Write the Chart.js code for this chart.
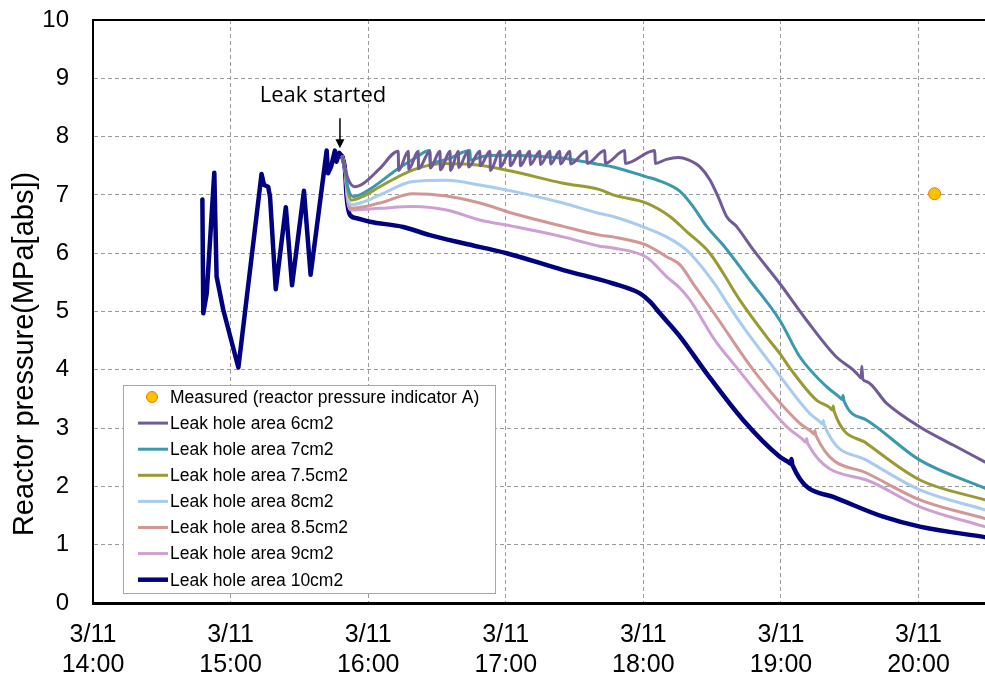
<!DOCTYPE html>
<html>
<head>
<meta charset="utf-8">
<script src="https://cdn.jsdelivr.net/npm/chart.js@4.4.0/dist/chart.umd.min.js"></script>
<style>
  html, body { margin: 0; padding: 0; background: #fff; overflow: hidden; }
  canvas { display: block; }
</style>
</head>
<body>
<canvas id="chart" width="992" height="678"></canvas>
<script>
// x = minutes after 3/11 14:00, y = reactor pressure MPa[abs]
const dateLabel = '3/11';
const hourLabels = ['14:00', '15:00', '16:00', '17:00', '18:00', '19:00', '20:00'];
const yTitle = 'Reactor pressure(MPa[abs])';
const leakText = 'Leak started';
const leakTime = 107.7;
const leakTip = 7.8;

const measured = [[367, 7.02]];

// common history before the leak (drawn as part of the 10cm2 series)
const history = [
  [47.7,6.92],[48.1,4.97],[49.6,5.31],[52.9,7.38],[53.9,5.60],[56.8,5.03],
  [63.4,4.04],[73.5,7.36],[74.6,7.17],[76.4,7.14],[77.2,6.97],[79.7,5.38],
  [84.1,6.79],[86.8,5.45],[92.0,7.07],[94.9,5.63],[101.9,7.76],[102.5,7.37],
  [103.8,7.48],[105.5,7.76],[106.2,7.57],[107.4,7.72],[108.7,7.66]
];

const leak6 = [
  [108.7,7.66],[109.9,7.45],[111.5,7.25],[114.2,7.14],[118,7.2],[125,7.45],
  [133.1,7.75],[133.3,7.42],[137.5,7.75],[137.7,7.44],[141.8,7.75],[142.0,7.45],
  [146.9,7.75],[147.1,7.46],[151.3,7.75],[151.5,7.43],[155.7,7.75],[155.9,7.42],
  [159.3,7.75],[159.5,7.47],[163.6,7.75],[163.8,7.48],[168.7,7.75],[168.9,7.50],
  [173.1,7.75],[173.3,7.42],[177.5,7.75],[177.7,7.48],[181.8,7.75],[182.0,7.50],
  [186.2,7.75],[186.4,7.50],[190.5,7.75],[190.7,7.52],[194.9,7.75],[195.1,7.52],
  [199.3,7.75],[199.5,7.53],[203.6,7.75],[203.8,7.53],[208.0,7.75],[208.2,7.53],
  [215.3,7.75],[215.5,7.54],[223.2,7.76],[223.4,7.54],[231.9,7.76],[232.1,7.54],
  [245.0,7.76],[245.2,7.54],[250.1,7.61],[255.2,7.64],[259.6,7.60],[264.7,7.48],
  [269.0,7.26],[272.6,6.97],[276.3,6.63],[280.6,6.46],[287.9,6.06],[299.5,5.48],
  [311.2,4.85],[324.2,4.22],[331.5,4.00],[333.5,3.92],[335.0,3.86],[335.3,4.06],
  [335.7,3.84],[337.3,3.80],[346.0,3.43],[360.6,3.02],[375.1,2.71],[388.9,2.42]
];

const leak7 = [
  [108.7,7.66],[109.9,7.43],[111,7.15],[113.5,6.97],[120,7.08],[132.4,7.43],
  [140,7.62],[146.9,7.76],[147.1,7.55],[155,7.62],[164.4,7.76],[164.6,7.60],
  [170,7.66],[177,7.68],[205,7.63],[221,7.52],[226.8,7.48],[241.4,7.31],
  [245.7,7.26],[256,7.06],[261.7,6.80],[267.6,6.46],[274.8,6.14],[286.4,5.54],
  [299.5,4.85],[308.3,4.22],[319.9,3.71],[325.3,3.54],[326.8,3.49],[327.1,3.56],
  [327.5,3.47],[337.3,3.14],[360.6,2.45],[388.9,1.97]
];

const leak75 = [
  [108.7,7.66],[109.9,7.43],[111,7.10],[112.8,6.91],[118,6.98],[125.1,7.14],
  [139.6,7.43],[152.7,7.54],[168.7,7.51],[183.3,7.40],[205,7.20],[221,7.09],
  [226.8,7.00],[241.4,6.86],[251.6,6.63],[258.9,6.37],[269,6.00],[282,5.20],
  [293.7,4.57],[299.5,4.28],[303.9,4.03],[315.5,3.48],[321,3.36],[322.5,3.31],
  [322.8,3.38],[323.2,3.29],[337.3,2.74],[360.6,2.11],[388.9,1.77]
];

const leak8 = [
  [108.7,7.66],[109.9,7.43],[111,7.00],[112.5,6.83],[118,6.88],[125.1,7.00],
  [139.6,7.23],[154.2,7.25],[168.7,7.17],[183.3,7.06],[205,6.86],[221,6.68],
  [226.8,6.63],[241.4,6.43],[250.1,6.28],[256,6.14],[260.3,6.00],[271.9,5.43],
  [275.6,5.20],[283.5,4.74],[296.6,4.05],[312.6,3.25],[316.7,3.12],[318.2,3.07],
  [318.5,3.13],[318.9,3.05],[337.3,2.45],[360.6,1.94],[388.9,1.60]
];

const leak85 = [
  [108.7,7.66],[109.9,7.43],[111,6.95],[112.5,6.77],[125.1,6.86],[139.6,7.02],
  [154.2,6.98],[168.7,6.86],[183.3,6.68],[205,6.46],[221,6.31],[226.8,6.28],
  [241.4,6.14],[250.1,5.94],[256,5.80],[261.7,5.48],[271.9,4.91],[287.9,4.00],
  [308.3,3.08],[313,2.95],[314.5,2.90],[314.8,2.96],[315.2,2.88],[337.3,2.23],
  [360.6,1.77],[388.9,1.45]
];

const leak9 = [
  [108.7,7.66],[109.9,7.43],[111,6.90],[112.5,6.74],[125.1,6.77],[139.6,6.80],
  [154.2,6.74],[168.7,6.57],[183.3,6.46],[205,6.28],[221,6.12],[226.8,6.09],
  [241.4,5.93],[250.1,5.60],[256,5.40],[260.3,5.20],[271.2,4.51],[279.2,4.11],
  [302.4,3.03],[309.4,2.81],[310.9,2.76],[311.2,2.82],[311.6,2.74],[337.3,2.11],
  [360.6,1.65],[388.9,1.31]
];

const leak10 = [
  [108.7,7.66],[109.9,7.43],[110.6,6.97],[112.0,6.66],[115.0,6.60],[120.8,6.54],
  [135.3,6.45],[146.9,6.31],[161.5,6.17],[180.4,6.00],[205.1,5.71],[226.8,5.48],
  [238.5,5.31],[242.9,5.17],[247.2,4.97],[256,4.57],[267.6,3.94],[283.5,3.14],
  [299.5,2.51],[302.8,2.43],[304.3,2.39],[304.6,2.47],[305.0,2.37],[322.8,1.82],
  [344.6,1.48],[360.6,1.31],[388.9,1.13]
];

const FONT = "'Liberation Sans', Arial, sans-serif";

function toXY(arr) {
  return arr.map(([x, y]) => ({ x, y }));
}

function lineSet(label, data, color, width, smooth = true) {
  return {
    type: 'line',
    label,
    data: toXY(data),
    borderColor: color,
    backgroundColor: color,
    borderWidth: width,
    borderJoinStyle: 'round',
    borderCapStyle: 'round',
    pointRadius: 0,
    fill: false,
    tension: 0,
    cubicInterpolationMode: smooth ? 'monotone' : 'default'
  };
}

// ─── plugins ────────────────────────────────────────────────────────────────
const frame = {
  id: 'frame',
  afterDraw(chart) {
    const { ctx, chartArea } = chart;
    ctx.save();
    ctx.strokeStyle = '#000';
    ctx.lineWidth = 2;
    ctx.beginPath();
    ctx.moveTo(chartArea.left, chartArea.top);
    ctx.lineTo(chartArea.right, chartArea.top);
    ctx.stroke();

    // y title
    ctx.translate(25, 354);
    ctx.rotate(-Math.PI / 2);
    ctx.fillStyle = '#000';
    ctx.font = '29px ' + FONT;
    ctx.textAlign = 'center';
    ctx.textBaseline = 'middle';
    ctx.fillText(yTitle, 0, 0);
    ctx.restore();
  }
};

const leakNote = {
  id: 'leakNote',
  afterDatasetsDraw(chart) {
    const { ctx, scales } = chart;
    const x = scales.x.getPixelForValue(leakTime);
    const tip = scales.y.getPixelForValue(leakTip);
    ctx.save();
    ctx.strokeStyle = '#000';
    ctx.fillStyle = '#000';
    ctx.lineWidth = 1.5;
    ctx.beginPath();
    ctx.moveTo(x, tip - 30);
    ctx.lineTo(x, tip - 6);
    ctx.stroke();
    ctx.beginPath();
    ctx.moveTo(x - 4.5, tip - 9);
    ctx.lineTo(x + 4.5, tip - 9);
    ctx.lineTo(x, tip);
    ctx.closePath();
    ctx.fill();
    ctx.font = "22px 'Open Sans', " + FONT;
    ctx.textAlign = 'center';
    ctx.textBaseline = 'middle';
    ctx.fillText(leakText, x - 17, tip - 53);
    ctx.restore();
  }
};

const legendBox = {
  id: 'legendBox',
  afterDatasetsDraw(chart) {
    const { ctx, chartArea } = chart;
    const x0 = chartArea.left + 30, y0 = chartArea.bottom - 218;
    const w = 372, h = 208;
    ctx.save();
    ctx.fillStyle = '#fff';
    ctx.fillRect(x0, y0, w, h);
    ctx.strokeStyle = '#a6a6a6';
    ctx.lineWidth = 1;
    ctx.strokeRect(x0 + 0.5, y0 + 0.5, w, h);
    ctx.font = '17.5px ' + FONT;
    ctx.textBaseline = 'middle';
    ctx.textAlign = 'left';
    chart.data.datasets.filter(ds => ds.label).forEach((ds, i) => {
      const y = y0 + 12 + i * 26.1;
      if (ds.type === 'scatter') {
        ctx.beginPath();
        ctx.arc(x0 + 29, y, 5.5, 0, Math.PI * 2);
        ctx.fillStyle = ds.backgroundColor;
        ctx.fill();
        ctx.strokeStyle = ds.borderColor;
        ctx.lineWidth = 1;
        ctx.stroke();
      } else {
        ctx.beginPath();
        ctx.moveTo(x0 + 15, y);
        ctx.lineTo(x0 + 45, y);
        ctx.strokeStyle = ds.borderColor;
        ctx.lineWidth = ds.borderWidth;
        ctx.stroke();
      }
      ctx.fillStyle = '#000';
      ctx.fillText(ds.label, x0 + 47, y + 1);
    });
    ctx.restore();
  }
};

// ─── chart ──────────────────────────────────────────────────────────────────
new Chart(document.getElementById('chart'), {
  data: {
    datasets: [
      {
        type: 'scatter',
        label: 'Measured (reactor pressure indicator A)',
        data: toXY(measured),
        backgroundColor: '#ffc000',
        borderColor: '#f07800',
        borderWidth: 1,
        pointRadius: 6
      },
      lineSet('Leak hole area 6cm2', leak6, '#705b98', 3),
      lineSet('Leak hole area 7cm2', leak7, '#3c98ad', 3),
      lineSet('Leak hole area 7.5cm2', leak75, '#9a9a33', 3),
      lineSet('Leak hole area 8cm2', leak8, '#a8cbf0', 3),
      lineSet('Leak hole area 8.5cm2', leak85, '#d29794', 3),
      lineSet('Leak hole area 9cm2', leak9, '#cd9fd3', 3),
      lineSet('Leak hole area 10cm2', leak10, '#000080', 4.5),
      lineSet('', history, '#000080', 4.5, false)
    ]
  },
  options: {
    responsive: false,
    animation: false,
    layout: { padding: { top: 20, right: 0, left: 0, bottom: 0 } },
    plugins: {
      legend: { display: false },
      tooltip: { enabled: false }
    },
    scales: {
      x: {
        type: 'linear',
        min: 0,
        max: 389,
        afterFit: s => { s.height = 75; s.paddingLeft = 0; s.paddingRight = 0; },
        grid: { color: '#9a9a9a', lineWidth: 1, drawTicks: false },
        border: { color: '#000', width: 3, dash: [4, 3] },
        ticks: {
          stepSize: 60,
          includeBounds: false,
          autoSkip: false,
          maxRotation: 0,
          padding: 17,
          color: '#000',
          font: { family: FONT, size: 25, lineHeight: 1.2 },
          callback: v => (v % 60 === 0 ? [dateLabel, hourLabels[v / 60]] : '')
        }
      },
      y: {
        min: 0,
        max: 10,
        afterFit: s => { s.width = 93; s.paddingTop = 0; s.paddingBottom = 0; },
        grid: { color: '#9a9a9a', lineWidth: 1, drawTicks: false },
        border: { color: '#000', width: 2, dash: [4, 3] },
        ticks: {
          stepSize: 1,
          padding: 24,
          color: '#000',
          font: { family: FONT, size: 24 }
        }
      }
    }
  },
  plugins: [frame, leakNote, legendBox]
});
</script>
</body>
</html>
